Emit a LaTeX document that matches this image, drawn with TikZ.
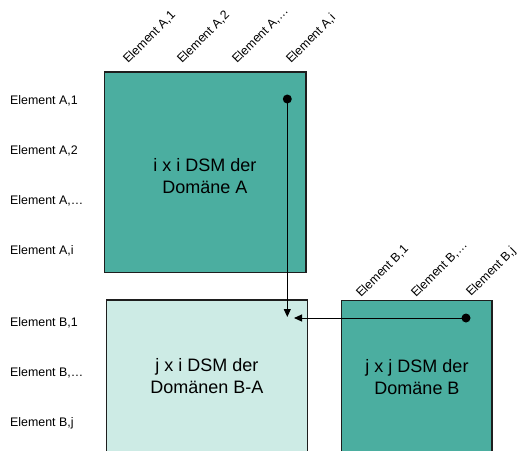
\documentclass[tikz,border=0pt]{standalone}
\usepackage{fontspec}
\setmainfont{Liberation Sans}
\usetikzlibrary{arrows.meta}
\definecolor{dsmdark}{RGB}{75,174,160}
\definecolor{dsmlight}{RGB}{205,235,229}
\definecolor{edge}{RGB}{30,30,30}
\tikzset{
  dsmbox/.style={draw=edge, line width=1.4pt},
  rowlabel/.style={anchor=west, inner sep=0pt, font=\fontsize{12.4}{14}\selectfont},
  collabel/.style={anchor=base west, inner sep=0pt, rotate=45, font=\fontsize{12.4}{14}\selectfont},
  boxtext/.style={align=center, inner sep=0pt, font=\fontsize{18}{22}\selectfont},
  dot/.style={circle, fill=black, inner sep=0pt, minimum size=9pt},
  link/.style={line width=1pt, -{Triangle[length=8pt,width=7pt]}}
}
\begin{document}
\begin{tikzpicture}[x=1pt, y=-1pt]
\useasboundingbox (0,0) rectangle (518,450);
\clip (0,0) rectangle (518,450);

% matrices
\draw[dsmbox, fill=dsmdark] (104.5,72) rectangle (306,272.5);
\draw[dsmbox, fill=dsmlight] (106.5,300) rectangle (307.7,453);
\draw[dsmbox, fill=dsmdark] (341.7,300.5) rectangle (492,453);

\node[boxtext] (ta) at (205,176) {i x i DSM der\\Domäne A};
\node[boxtext] (tba) at (207,376) {j x i DSM der\\Domänen B-A};
\node[boxtext] (tb) at (417,377) {j x j DSM der\\Domäne B};

% row labels
\node[rowlabel] (ra1) at (10,101) {Element A,1};
\node[rowlabel] (ra2) at (10,151) {Element A,2};
\node[rowlabel] (ra3) at (10,201) {Element A,…};
\node[rowlabel] (ra4) at (10,251) {Element A,i};
\node[rowlabel] (rb1) at (10,323) {Element B,1};
\node[rowlabel] (rb2) at (10,373) {Element B,…};
\node[rowlabel] (rb3) at (10,423) {Element B,j};

% column labels
\node[collabel] (ca1) at (128,64) {Element A,1};
\node[collabel] (ca2) at (182,64) {Element A,2};
\node[collabel] (ca3) at (237,64) {Element A,…};
\node[collabel] (ca4) at (291,64) {Element A,i};
\node[collabel] (cb1) at (361,298) {Element B,1};
\node[collabel] (cb2) at (416,298) {Element B,…};
\node[collabel] (cb3) at (471,297) {Element B,j};

% dependency links
\node[dot] (da) at (287.3,99) {};
\node[dot] (db) at (466,318) {};
\coordinate (ea) at (287.3,317);
\coordinate (eb) at (294,318);
\draw[link] (da.center) -- (ea);
\draw[link] (db.center) -- (eb);
\end{tikzpicture}
\end{document}
